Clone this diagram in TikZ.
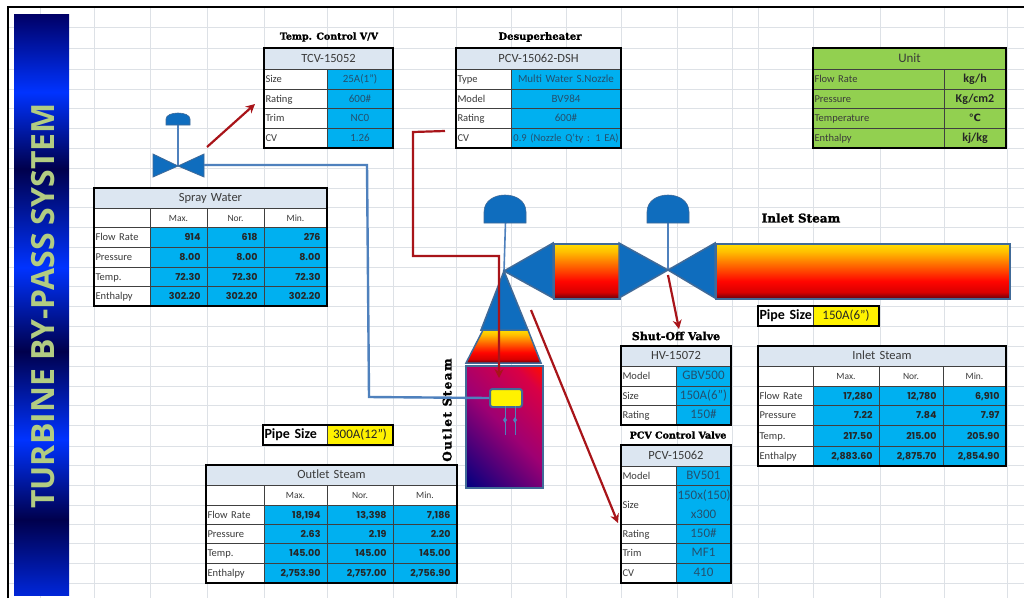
\documentclass[tikz,border=0pt]{standalone}
\usepackage{fontspec}
\setmainfont{Carlito}
\newfontfamily\numfont{Poppins}
\newfontfamily\headfont{DejaVu Serif}[BoldFeatures={FakeBold=1.5}]
\newfontfamily\barfont{Open Sans}
\newfontfamily\symfont{DejaVu Sans}
\usetikzlibrary{arrows.meta}

\definecolor{gridgray}{HTML}{DDE1E6}
\definecolor{cellblue}{HTML}{00B0F0}
\definecolor{cellhead}{HTML}{DCE6F1}
\definecolor{unitgreen}{HTML}{92D050}
\definecolor{shapeblue}{HTML}{0F6DBE}
\definecolor{shapeedge}{HTML}{406A98}
\definecolor{pipeblue}{HTML}{4F81BD}
\definecolor{redline}{HTML}{A81419}
\definecolor{valuetext}{HTML}{24506E}
\definecolor{labeltext}{HTML}{3A3A3A}

\pgfdeclareverticalshading{steamfill}{100bp}{rgb(0bp)=(0.4,0,0.05); rgb(25bp)=(0.4,0,0.05); rgb(31bp)=(0.85,0,0); rgb(41bp)=(1,0.02,0); rgb(56bp)=(1,0.42,0); rgb(68bp)=(1,0.75,0); rgb(75bp)=(1,0.87,0); rgb(100bp)=(1,0.87,0)}
\pgfdeclareverticalshading{barfill}{100bp}{rgb(0bp)=(0,0.15,0.85); rgb(25bp)=(0,0.15,0.85); rgb(31.5bp)=(0,0,0.3); rgb(38.4bp)=(0,0.2,1); rgb(46bp)=(0,0,0.3); rgb(53.2bp)=(0,0.2,1); rgb(61.7bp)=(0,0,0.3); rgb(68.3bp)=(0,0.2,1); rgb(75bp)=(0,0,0.4); rgb(100bp)=(0,0,0.4)}
\pgfdeclarehorizontalshading{outletfill}{100bp}{rgb(0bp)=(0,0,0.5); rgb(15bp)=(0,0,0.5); rgb(50bp)=(0.62,0,0.45); rgb(75bp)=(0.85,0,0.27); rgb(85bp)=(1,0.05,0); rgb(100bp)=(1,0.05,0)}

\tikzset{
  gridline/.style={gridgray,line width=0.8pt},
  cell/.style={draw=black!75,line width=0.8pt,inner xsep=1.5pt,inner ysep=0pt,outer sep=0pt,
    text height=8pt,text depth=1pt},
  titlecell/.style={cell,fill=cellhead,align=center,text=labeltext,font=\fontsize{12.5}{14}\selectfont},
  headcell/.style={cell,fill=white,align=center,text=labeltext,font=\fontsize{9.5}{11}\selectfont},
  labelcell/.style={cell,fill=white,align=left,text=labeltext,font=\fontsize{10.5}{12}\selectfont},
  numcell/.style={cell,fill=cellblue,align=right,text=black!85,font=\numfont\bfseries\fontsize{9.5}{11}\selectfont},
  specvalue/.style={cell,fill=cellblue,align=center,text=valuetext,font=\fontsize{11}{13}\selectfont},
  tableframe/.style={draw=black,line width=1.4pt},
  unitcell/.style={cell,fill=unitgreen,align=left,text=labeltext,font=\fontsize{10.5}{12}\selectfont},
  unitvalue/.style={cell,fill=unitgreen,align=center,text=black!85,font=\bfseries\fontsize{12}{14}\selectfont},
  unittitle/.style={cell,fill=unitgreen,align=center,text=labeltext,font=\fontsize{13}{15}\selectfont},
  capsize/.style={text=black,font=\headfont\bfseries\fontsize{9.5}{11}\selectfont,inner sep=0pt},
  blueshape/.style={fill=shapeblue,draw=shapeedge,line width=1.5pt,line join=miter},
  steamshape/.style={shading=steamfill,draw=shapeedge,line width=1.5pt},
  stemline/.style={pipeblue,line width=1.6pt},
  waterpipe/.style={pipeblue,line width=2.4pt},
  redarrow/.style={redline,line width=2.2pt,-{Stealth[length=9pt,width=9pt]}},
  pipelabel/.style={cell,fill=white,align=left,text=black,font=\bfseries\fontsize{14}{16}\selectfont},
  pipevalue/.style={cell,fill=yellow,align=center,text=black!85,font=\fontsize{13}{15}\selectfont}
}

% one cell: name, style, x0, y0, x1, y1, text
\newcommand{\tcell}[7]{%
  \pgfmathsetmacro{\tw}{#5-#3-3}%
  \pgfmathsetmacro{\th}{#6-#4}%
  \node[#2,text width=\tw pt,minimum height=\th pt,anchor=north west] (#1) at (#3,#4) {#7};}
\newcommand{\setcols}[5]{\def\xa{#1}\def\xb{#2}\def\xc{#3}\def\xd{#4}\def\xe{#5}}
% table with Max./Nor./Min. columns
\newcommand{\flowtable}[6]{%
  \tcell{#1title}{titlecell}{\xa}{#3}{\xe}{#4}{#2}
  \tcell{#1blank}{headcell}{\xa}{#4}{\xb}{#5}{}
  \tcell{#1max}{headcell}{\xb}{#4}{\xc}{#5}{Max.}
  \tcell{#1nor}{headcell}{\xc}{#4}{\xd}{#5}{Nor.}
  \tcell{#1min}{headcell}{\xd}{#4}{\xe}{#5}{Min.}
  \foreach \rowkey/\ya/\yb/\lab/\va/\vb/\vc in {#6}{
    \tcell{#1\rowkey}{labelcell}{\xa}{\ya}{\xb}{\yb}{\lab}
    \tcell{#1\rowkey a}{numcell}{\xb}{\ya}{\xc}{\yb}{\va\hspace*{5pt}}
    \tcell{#1\rowkey b}{numcell}{\xc}{\ya}{\xd}{\yb}{\vb\hspace*{5pt}}
    \tcell{#1\rowkey c}{numcell}{\xd}{\ya}{\xe}{\yb}{\vc\hspace*{5pt}}
  }
  \draw[tableframe] (\xa,#3) rectangle (\xe,\lastrow);}
% table with label and value columns
\newcommand{\spectable}[5]{%
  \tcell{#1title}{titlecell}{\xa}{#3}{\xc}{#4}{#2}
  \foreach \rowkey/\ya/\yb/\lab/\va in {#5}{
    \tcell{#1\rowkey}{labelcell}{\xa}{\ya}{\xb}{\yb}{\lab}
    \tcell{#1\rowkey v}{specvalue}{\xb}{\ya}{\xc}{\yb}{\va}
  }
  \draw[tableframe] (\xa,#3) rectangle (\xc,\lastrow);}

\begin{document}
\begin{tikzpicture}[x=1pt,y=-1pt]
  \useasboundingbox (0,0) rectangle (1024,598);
  \fill[white] (0,0) rectangle (1024,598);

  % sheet grid
  \foreach \x in {40,94,150,207,264,327,393,456,511,566,621,677,732,758,813,880,944,1007}
    \draw[gridline] (\x,8) -- (\x,598);
  \foreach \y in {27,48,69,89,108,128,148,168,188,207,227,247,267,286,306,326,346,366,386,405,425,446,465,485,505,524,543,563,583}
    \draw[gridline] (8,\y) -- (1024,\y);
  \draw[black,line width=2.4pt] (8,598) -- (8,7) -- (1024,7);

  % side bar
  \node[shading=barfill,draw=none,minimum width=55pt,minimum height=581pt,anchor=north west,inner sep=0pt] (sidebar) at (14,14) {};
  \node[rotate=90,text={rgb,255:red,178;green,204;blue,130},font=\barfont\bfseries\fontsize{32}{36}\selectfont] (bartitle) at (43,306) {TURBINE BY-PASS SYSTEM};

  % tables
  \def\lastrow{148}
  \setcols{264}{327}{393}{393}{393}
  \node[capsize] (tcvcap) at (329,37) {Temp. Control V/V};
  \spectable{tcv}{TCV-15052}{48}{69}{size/69/89/Size/25A(1"),rating/89/108/Rating/600\#,trim/108/128/Trim/NC0,cv/128/148/CV/1.26}

  \setcols{456}{511}{621}{621}{621}
  \node[capsize,font=\headfont\bfseries\fontsize{10}{12}\selectfont] (dshcap) at (540,37) {Desuperheater};
  \spectable{dsh}{PCV-15062-DSH}{48}{69}{type/69/89/Type/Multi Water S.Nozzle,model/89/108/Model/BV984,rating/108/128/Rating/600\#,cv/128/148/CV/{\fontsize{10.5}{12}\selectfont 0.9 (Nozzle Q'ty : 1 EA)}}

  \tcell{unittitle}{unittitle}{813}{48}{1006}{69}{Unit}
  \foreach \rowkey/\ya/\yb/\lab/\va in {flow/69/89/Flow Rate/kg\slash h,press/89/108/Pressure/Kg\slash cm2,temp/108/128/Temperature/{\symfont\fontsize{10}{12}\selectfont ℃},enth/128/148/Enthalpy/kj\slash kg}{
    \tcell{unit\rowkey}{unitcell}{813}{\ya}{944}{\yb}{\lab}
    \tcell{unit\rowkey v}{unitvalue}{944}{\ya}{1006}{\yb}{\va}
  }
  \draw[tableframe] (813,48) rectangle (1006,148);

  \def\lastrow{306}
  \setcols{94}{150}{207}{264}{327}
  \flowtable{spray}{Spray Water}{188}{208}{227}{flow/227/247/Flow Rate/914/618/276,press/247/267/Pressure/8.00/8.00/8.00,temp/267/286/Temp./72.30/72.30/72.30,enth/286/306/Enthalpy/302.20/302.20/302.20}

  \def\lastrow{466}
  \setcols{758}{813}{879}{943}{1006}
  \flowtable{inlet}{Inlet Steam}{346}{366}{386}{flow/386/405/Flow Rate/{17,280}/{12,780}/{6,910},press/405/425/Pressure/7.22/7.84/7.97,temp/425/446/Temp./217.50/215.00/205.90,enth/446/466/Enthalpy/{2,883.60}/{2,875.70}/{2,854.90}}

  \def\lastrow{583}
  \setcols{206}{264}{327}{393}{457}
  \flowtable{outlet}{Outlet Steam}{465}{485}{505}{flow/505/524/Flow Rate/{18,194}/{13,398}/{7,186},press/524/543/Pressure/2.63/2.19/2.20,temp/543/563/Temp./145.00/145.00/145.00,enth/563/583/Enthalpy/{2,753.90}/{2,757.00}/{2,756.90}}

  \begin{scope}[specvalue/.append style={font=\fontsize{13}{19.5}\selectfont}]
    \def\lastrow{425}
    \setcols{621}{676}{731}{731}{731}
    \node[capsize,font=\headfont\bfseries\fontsize{11}{13}\selectfont] (hvcap) at (676,336) {Shut-Off Valve};
    \spectable{hv}{HV-15072}{346}{366}{model/366/386/Model/GBV500,size/386/405/Size/150A(6"),rating/405/425/Rating/150\#}
    \def\lastrow{583}
    \node[capsize] (pcvcap) at (678,435) {PCV Control Valve};
    \spectable{pcv}{PCV-15062}{445}{466}{model/466/485/Model/BV501,rating/524/543/Rating/150\#,trim/543/563/Trim/MF1,cv/563/583/CV/410}
    \tcell{pcvsize}{labelcell}{621}{485}{676}{524}{Size}
    \tcell{pcvsizev}{specvalue,text height=,text depth=}{676}{485}{731}{524}{150x(150)\\x300}
    \draw[tableframe] (621,445) rectangle (731,583);
  \end{scope}

  % pipe size boxes
  \tcell{inletsize}{pipelabel}{758}{306}{813}{326}{\mbox{Pipe Size}}
  \tcell{inletsizev}{pipevalue}{813}{306}{879}{326}{150A(6")}
  \draw[tableframe] (758,306) rectangle (879,326);
  \tcell{outletsize}{pipelabel}{263}{425}{327}{445}{\mbox{Pipe Size}}
  \tcell{outletsizev}{pipevalue}{327}{425}{393}{445}{300A(12")}
  \draw[tableframe] (263,425) rectangle (393,445);

  % steam labels
  \node[capsize,font=\headfont\bfseries\fontsize{12}{14}\selectfont] (inletcap) at (801,218) {Inlet Steam};
  \node[capsize,rotate=90,font=\headfont\bfseries\fontsize{12}{14}\selectfont\addfontfeature{LetterSpace=12}] (outletcap) at (447,410) {Outlet Steam};

  % named points of the piping
  \coordinate (junction) at (504,271);
  \coordinate (shutoff) at (668,270);

  % stems and actuators
  \draw[stemline] (505.5,222) -- (junction);
  \draw[stemline] (shutoff) -- (668,221);
  \foreach \cx in {505,668}
    \draw[fill=shapeblue,draw=shapeedge,line width=0.6pt] (\cx-21,223) -- (\cx-21,212) .. controls (\cx-21,201) and (\cx-11,195) .. (\cx,195) .. controls (\cx+11,195) and (\cx+21,201) .. (\cx+21,212) -- (\cx+21,223) -- cycle;

  % vessel and line
  \node[shading=outletfill,shading angle=45,draw=shapeedge,line width=1.8pt,minimum width=77pt,minimum height=122pt,anchor=north west,inner sep=0pt] (outletbody) at (465,365) {};
  \draw[steamshape] (483,330) -- (528,330) -- (541,363) -- (466,363) -- cycle;
  \draw[blueshape] (junction) -- (528,330) -- (481,330) -- cycle;
  \draw[blueshape] (junction) -- (553,243) -- (553,298) -- cycle;
  \node[steamshape,minimum width=66pt,minimum height=55pt,anchor=north west,inner sep=0pt] (midpipe) at (553,243) {};
  \draw[blueshape] (619,243) -- (shutoff) -- (619,298) -- cycle;
  \draw[blueshape] (715,243) -- (shutoff) -- (715,298) -- cycle;
  \node[steamshape,minimum width=294pt,minimum height=55pt,anchor=north west,inner sep=0pt] (inletpipe) at (715,243) {};

  % spray valve
  \draw[stemline] (178,125) -- (178,166);
  \draw[fill=shapeblue,draw=shapeedge,line width=0.6pt] (166,125) -- (166,119) .. controls (166,115) and (172,113) .. (178,113) .. controls (184,113) and (190,115) .. (190,119) -- (190,125) -- cycle;
  \draw[blueshape,line width=0.8pt] (153,154) -- (178,166) -- (153,177) -- cycle;
  \draw[blueshape,line width=0.8pt] (204,154) -- (178,166) -- (204,177) -- cycle;
  \coordinate (valveport) at (204,165);

  % nozzle
  \node[fill=yellow,draw=shapeedge,line width=2pt,rounded corners=2.5pt,minimum width=32pt,minimum height=18pt,anchor=north west,inner sep=0pt] (nozzle) at (489,388) {};
  \draw[waterpipe] (valveport) -- (367,165) -- (369,397) -- (nozzle.west);
  \foreach \sx in {505,515}{
    \draw[stemline,line width=1pt,-{Diamond[length=6pt,width=4pt]}] (\sx,406) -- (\sx,423);
    \draw[stemline,line width=1pt] (\sx,420) -- (\sx,435);
  }

  % red pointers
  \coordinate (sprayarrow) at (207,147);
  \coordinate (sprayarrowend) at (255,104);
  \coordinate (dsharrow) at (445,131);
  \coordinate (dsharrowend) at (499,378);
  \coordinate (hvarrow) at (668,275);
  \coordinate (hvarrowend) at (679,329);
  \coordinate (pcvarrow) at (531,310);
  \coordinate (pcvarrowend) at (618,523);
  \draw[redarrow] (sprayarrow) -- (sprayarrowend);
  \draw[redarrow] (dsharrow) -- (413,132) -- (413,256) -- (499,256) -- (dsharrowend);
  \draw[redarrow] (hvarrow) -- (hvarrowend);
  \draw[redarrow] (pcvarrow) -- (pcvarrowend);
\end{tikzpicture}
\end{document}
